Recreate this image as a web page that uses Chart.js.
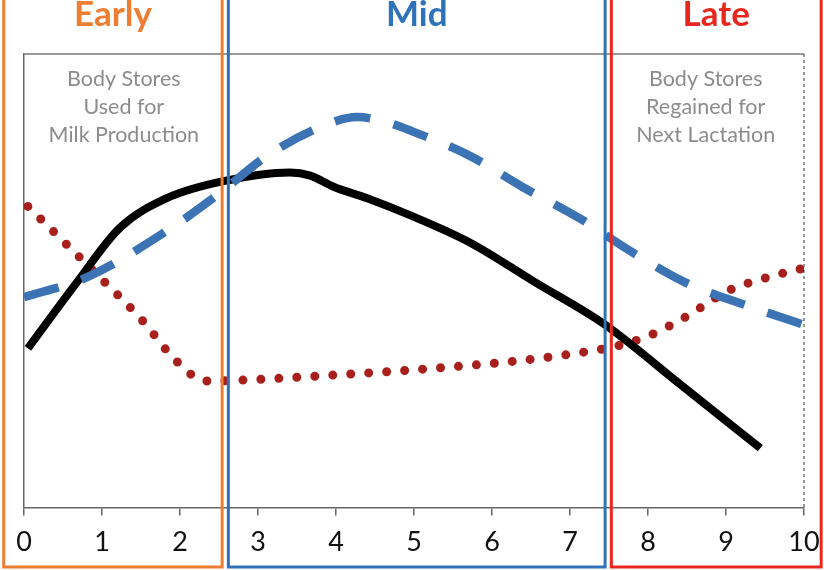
<!DOCTYPE html>
<html>
<head>
<meta charset="utf-8">
<script src="https://cdn.jsdelivr.net/npm/chart.js@4"></script>
<style>
  html, body { margin: 0; padding: 0; background: #fff; }
  #wrap { width: 824px; height: 570px; position: relative; }
</style>
</head>
<body>
<div id="wrap"><canvas id="lactationChart"></canvas></div>
<script>
// x = month of lactation, y = relative level (0-100)
const xTicks = [0, 1, 2, 3, 4, 5, 6, 7, 8, 9, 10];

const milkX = [0.05, 0.68, 1.23, 1.83, 2.54, 3.41, 3.67, 3.96, 4.40, 4.97, 5.72, 6.55, 7.45, 8.41, 9.44];
const milkY = [35.1, 49.7, 61.7, 68.2, 71.9, 73.9, 73.2, 70.8, 68.2, 64.3, 58.4, 49.7, 40.3, 27.2, 13.1];

const intakeX = [0, 0.81, 1.83, 2.47, 3.12, 3.83, 4.27, 4.60, 4.97, 5.71, 6.38, 7.12, 7.77, 8.47, 9.24, 10];
const intakeY = [46.4, 50.8, 61.0, 68.8, 77.6, 84.1, 86.1, 85.2, 83.0, 77.6, 70.8, 63.8, 56.6, 49.7, 44.7, 40.3];

const weightX = [0.05, 0.87, 1.51, 1.96, 2.33, 2.79, 3.95, 5.09, 6.24, 7.15, 7.62, 8.04, 8.46, 9.04, 9.44, 9.97];
const weightY = [66.4, 52.5, 41.4, 32.2, 27.9, 28.1, 29.2, 30.5, 32.2, 34.2, 35.7, 38.1, 41.8, 47.9, 50.3, 52.7];

const phaseNames = ['Early', 'Mid', 'Late'];
const phaseStart = [-0.26, 2.62, 7.53];
const phaseEnd = [2.54, 7.45, 10.22];
const phaseColors = ['#ED7D31', '#2E72BA', '#E8281E'];

const notes = [
  { x: 1.28, lines: ['Body Stores', 'Used for', 'Milk Production'] },
  { x: 8.74, lines: ['Body Stores', 'Regained for', 'Next Lactation'] }
];

function toPoints(xs, ys) {
  return xs.map(function (x, i) { return { x: x, y: ys[i] }; });
}

const framePlugin = {
  id: 'frame',
  afterDatasetsDraw: function (chart) {
    const ctx = chart.ctx;
    const xs = chart.scales.x;
    const area = chart.chartArea;
    ctx.save();

    // top border and dotted right edge of the plot
    ctx.strokeStyle = '#777';
    ctx.lineWidth = 1.5;
    ctx.beginPath();
    ctx.moveTo(area.left, area.top);
    ctx.lineTo(area.right, area.top);
    ctx.stroke();
    ctx.strokeStyle = '#333';
    ctx.lineWidth = 1;
    ctx.setLineDash([3, 3]);
    ctx.beginPath();
    ctx.moveTo(area.right, area.top);
    ctx.lineTo(area.right, area.bottom);
    ctx.stroke();
    ctx.setLineDash([]);

    // notes
    ctx.fillStyle = '#8c8c8c';
    ctx.font = '21.5px Lato';
    ctx.textAlign = 'center';
    ctx.textBaseline = 'alphabetic';
    notes.forEach(function (n) {
      const px = xs.getPixelForValue(n.x);
      n.lines.forEach(function (t, i) {
        ctx.fillText(t, px, area.top + 32 + i * 28);
      });
    });

    // phase boxes and titles
    ctx.lineWidth = 3;
    phaseNames.forEach(function (name, i) {
      const l = xs.getPixelForValue(phaseStart[i]);
      const r = xs.getPixelForValue(phaseEnd[i]);
      ctx.strokeStyle = phaseColors[i];
      ctx.strokeRect(l, -5, r - l, 572);
      ctx.fillStyle = phaseColors[i];
      ctx.font = 'bold 35px Lato';
      ctx.fillText(name, (l + r) / 2, 26);
    });
    ctx.restore();
  }
};

const ctx = document.getElementById('lactationChart').getContext('2d');
new Chart(ctx, {
  type: 'line',
  data: {
    datasets: [{
      label: 'Dry Matter Intake',
      data: toPoints(intakeX, intakeY),
      borderColor: '#3B73B4',
      borderWidth: 8.5,
      borderDash: [36, 24],
      borderCapStyle: 'butt',
      pointRadius: 0,
      cubicInterpolationMode: 'monotone'
    }, {
      label: 'Milk Production',
      data: toPoints(milkX, milkY),
      borderColor: '#000',
      borderWidth: 8,
      borderCapStyle: 'butt',
      pointRadius: 0,
      cubicInterpolationMode: 'monotone'
    }, {
      label: 'Body Weight',
      data: toPoints(weightX, weightY),
      borderColor: '#A8201C',
      borderWidth: 9,
      borderDash: [0, 18],
      borderCapStyle: 'round',
      pointRadius: 0,
      cubicInterpolationMode: 'monotone'
    }]
  },
  options: {
    responsive: true,
    maintainAspectRatio: false,
    animation: false,
    layout: { padding: { left: 24, right: 20, top: 54, bottom: 2 } },
    plugins: {
      legend: { display: false },
      tooltip: { enabled: false }
    },
    scales: {
      x: {
        type: 'linear',
        min: 0,
        max: 10,
        afterBuildTicks: function (axis) {
          axis.ticks = xTicks.map(function (v) { return { value: v }; });
        },
        afterFit: function (axis) {
          axis.paddingLeft = 0;
          axis.paddingRight = 0;
        },
        grid: {
          drawOnChartArea: false,
          drawTicks: true,
          tickLength: 8,
          tickColor: '#666',
          lineWidth: 1.5
        },
        border: { color: '#666', width: 1.5 },
        ticks: {
          color: '#111',
          padding: 10,
          maxRotation: 0,
          font: { family: 'Lato', size: 27 }
        }
      },
      y: {
        min: 0,
        max: 100,
        grid: { drawOnChartArea: false, drawTicks: false },
        border: { color: '#666', width: 1.5 },
        ticks: { display: false }
      }
    }
  },
  plugins: [framePlugin]
});
</script>
</body>
</html>
